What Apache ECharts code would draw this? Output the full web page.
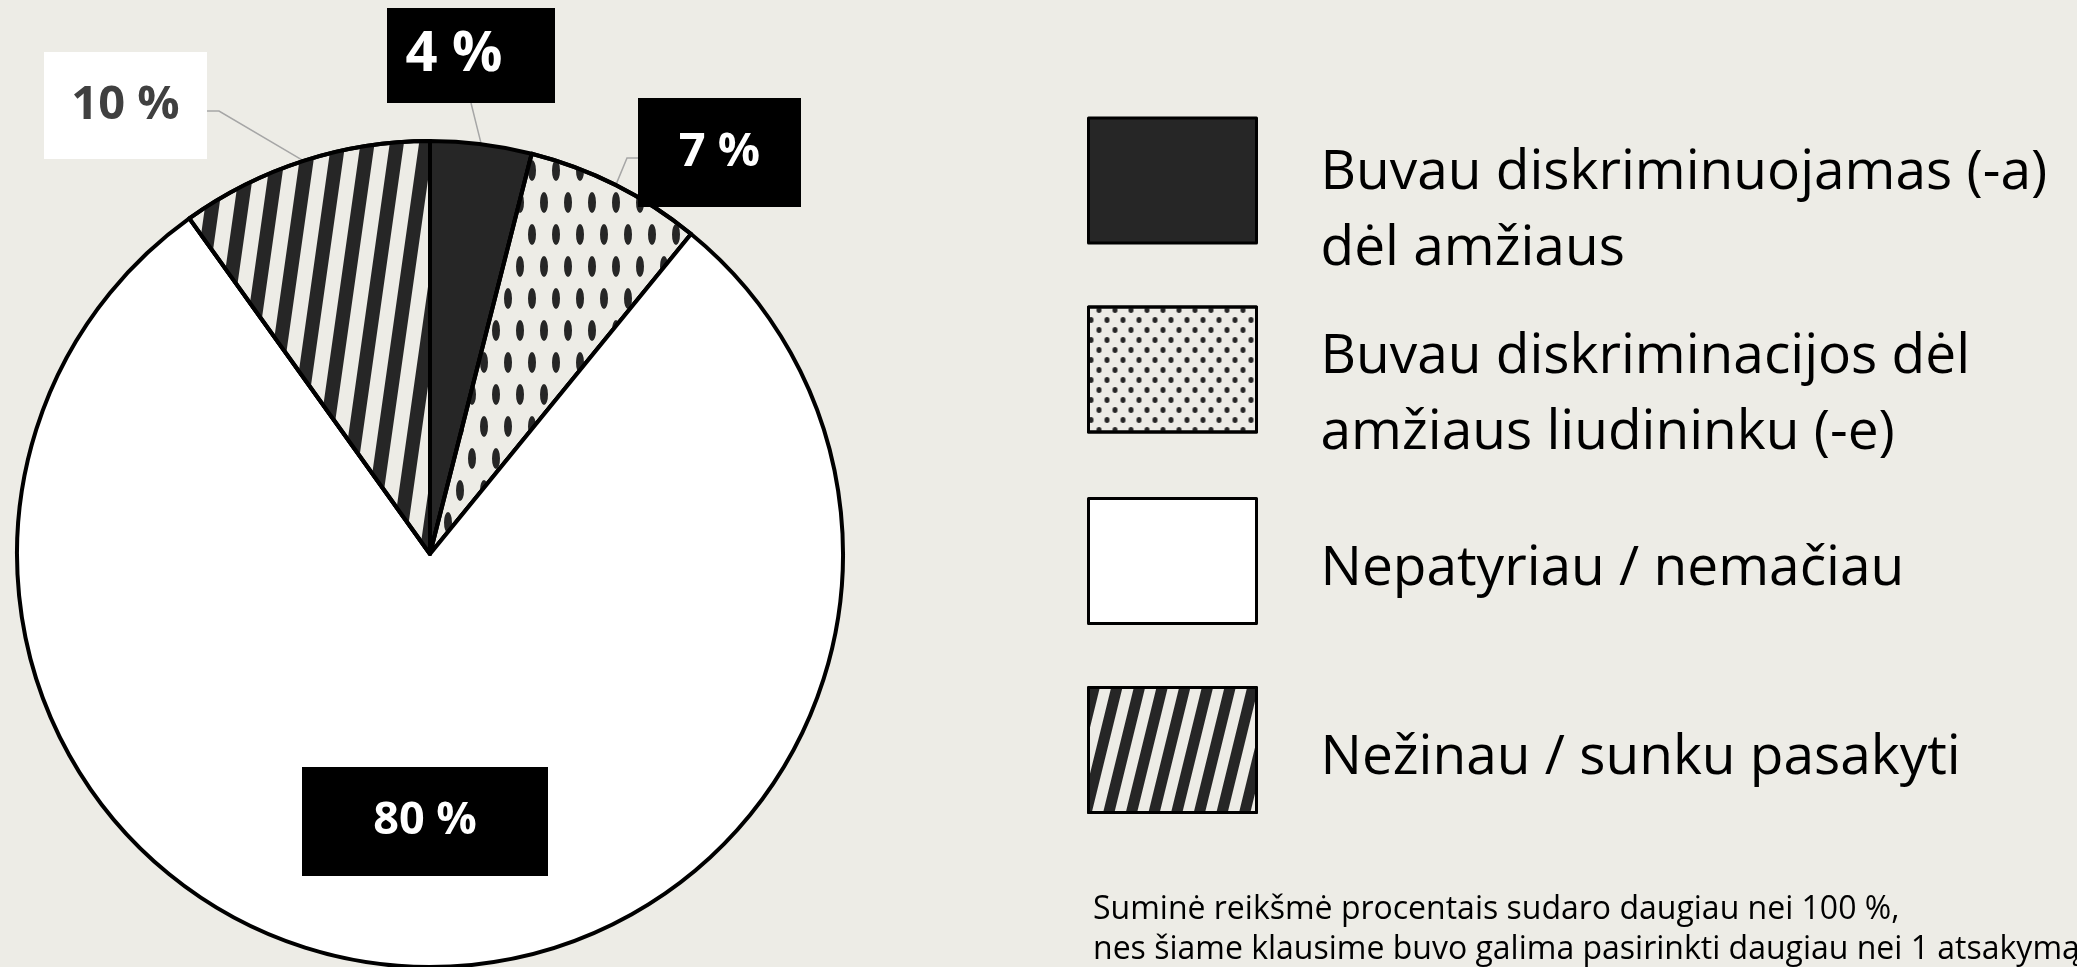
<!DOCTYPE html>
<head>
    <meta charset="utf-8">
    <title>Diskriminacija dėl amžiaus</title>
    <script src="https://cdn.jsdelivr.net/npm/echarts@6/dist/echarts.min.js"></script>
    <style>
        html, body { margin: 0; padding: 0; background: #EDECE6; }
        #main { width: 2077px; height: 967px; }
    </style>
</head>
<body>
<div id="main"></div>
<script type="text/javascript">
    // kategorijos ir reikšmės (%)
    var categories = [
        'Buvau diskriminuojamas (-a)\ndėl amžiaus',
        'Buvau diskriminacijos dėl\namžiaus liudininku (-e)',
        'Nepatyriau / nemačiau',
        'Nežinau / sunku pasakyti'
    ];
    var values = [4, 7, 80, 10];
    var footnote = 'Suminė reikšmė procentais sudaro daugiau nei 100 %,\n' +
        'nes šiame klausime buvo galima pasirinkti daugiau nei 1 atsakymą';

    var FONT = 'Open Sans';
    var BG = '#EDECE6';
    var INK = '#262626';
    var ELLIPSE = 'path://M0,10A5,10,0,1,1,10,10A5,10,0,1,1,0,10Z';

    // raštai (decal)
    var dotDecal = {
        symbol: ELLIPSE, symbolSize: 1, symbolKeepAspect: false, color: INK,
        dashArrayX: [[8, 16], [0, 12, 8, 4]], dashArrayY: [21, 11]
    };
    var stripeDecal = {
        symbol: 'rect', symbolSize: 1, color: INK,
        dashArrayX: [1, 0], dashArrayY: [14, 15], rotation: -1.43
    };
    var legendDecals = [null, {
        symbol: ELLIPSE, symbolSize: 1, symbolKeepAspect: false, color: INK,
        dashArrayX: [[5, 11], [0, 8, 5, 3]], dashArrayY: [6, 4]
    }, null, {
        symbol: 'rect', symbolSize: 1, color: INK,
        dashArrayX: [1, 0], dashArrayY: [11, 11], rotation: -1.33
    }];

    var sliceStyles = [
        { color: INK },
        { color: BG, decal: dotDecal },
        { color: '#FFFFFF' },
        { color: BG, decal: stripeDecal }
    ];

    // etikečių dėžutės: centras, dydis, poslinkis
    var labelBoxes = [
        { cx: 471, cy: 55.5, w: 168, h: 95, shift: 34, bg: '#000', fg: '#fff', size: 56 },
        { cx: 719.5, cy: 152.5, w: 163, h: 109, shift: 0, bg: '#000', fg: '#fff', size: 47 },
        { cx: 425, cy: 821.5, w: 246, h: 109, shift: 0, bg: '#000', fg: '#fff', size: 45 },
        { cx: 125.5, cy: 105.5, w: 163, h: 107, shift: 0, bg: '#fff', fg: '#404040', size: 47 }
    ];

    // legendos ikonų viršus ir teksto poslinkis žemyn
    var iconTops = [118, 307, 497, 686];
    var textSpacer = [62, 52, 16, 16];
    var ICON_H = 125, LINE_H = 76;

    var myChart = echarts.init(document.getElementById('main'));

    var option = {
        animation: false,
        backgroundColor: BG,
        title: {
            text: footnote,
            left: 1093,
            top: 890,
            padding: 0,
            textStyle: { fontFamily: FONT, fontSize: 32, fontWeight: 'normal', color: '#000', lineHeight: 40 }
        },
        legend: categories.map(function (name, i) {
            var item = { name: name };
            if (legendDecals[i]) item.itemStyle = { decal: legendDecals[i] };
            var lines = name.split('\n').length;
            var blockH = textSpacer[i] + lines * LINE_H;
            var overflow = Math.max(0, (blockH - ICON_H) / 2);
            return {
                data: [item],
                left: 1087,
                top: iconTops[i] - overflow,
                padding: 0,
                orient: 'vertical',
                icon: 'rect',
                itemWidth: 168,
                itemHeight: ICON_H,
                selectedMode: false,
                itemStyle: { borderColor: '#000', borderWidth: 3 },
                formatter: function (n) { return '{sp| }\n' + n; },
                textStyle: {
                    fontFamily: FONT, fontSize: 55, color: '#000', lineHeight: LINE_H,
                    padding: [0, 0, 0, 59],
                    rich: { sp: { fontSize: 1, lineHeight: textSpacer[i] } }
                }
            };
        }),
        series: [{
            type: 'pie',
            center: [430, 554],
            radius: 413,
            startAngle: 90,
            clockwise: true,
            selectedMode: false,
            avoidLabelOverlap: false,
            itemStyle: { borderColor: '#000', borderWidth: 4 },
            label: {
                show: true,
                position: 'outside',
                formatter: '{c} %',
                fontFamily: FONT,
                fontWeight: 'bold'
            },
            labelLine: {
                show: true,
                length: 10,
                length2: 10,
                lineStyle: { color: '#A6A6A6', width: 1.5 }
            },
            emphasis: { scale: false },
            labelLayout: function (p) {
                var b = labelBoxes[p.dataIndex];
                var out = { x: b.cx, y: b.cy, align: 'center', verticalAlign: 'middle' };
                var pts = p.labelLinePoints;
                if (pts && pts.length) {
                    var start = pts[0];
                    var end, bend;
                    if (p.dataIndex === 0) {
                        end = [b.cx, b.cy + b.h / 2];
                        bend = [(start[0] + end[0]) / 2, (start[1] + end[1]) / 2];
                    } else if (p.dataIndex === 1) {
                        end = [b.cx - b.w / 2, b.cy + 5.5];
                        bend = [end[0] - 11, end[1]];
                    } else if (p.dataIndex === 3) {
                        end = [b.cx + b.w / 2, b.cy + 5.5];
                        bend = [end[0] + 12, end[1]];
                    }
                    if (end) out.labelLinePoints = [start, bend, end];
                }
                return out;
            },
            data: categories.map(function (name, i) {
                var b = labelBoxes[i];
                var d = {
                    name: name,
                    value: values[i],
                    itemStyle: sliceStyles[i],
                    label: {
                        backgroundColor: b.bg,
                        color: b.fg,
                        fontSize: b.size,
                        width: b.w - b.shift,
                        lineHeight: b.h,
                        align: 'center',
                        padding: [0, b.shift, 0, 0]
                    }
                };
                if (i === 2) {
                    d.label.position = 'inside';
                    d.labelLine = { show: false };
                }
                return d;
            })
        }]
    };

    myChart.setOption(option);
</script>
</body>
